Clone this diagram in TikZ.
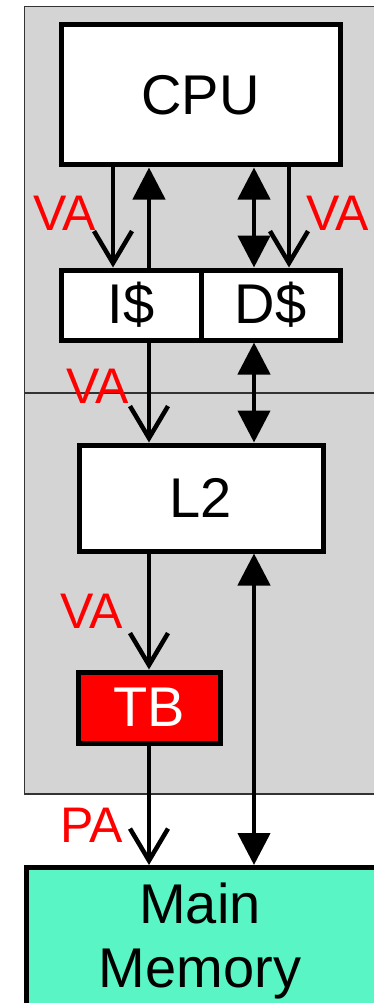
\documentclass[tikz,border=0pt]{standalone}
\usepackage{fontspec}
\setmainfont{Liberation Sans}
\usetikzlibrary{arrows.meta}
\definecolor{panelgray}{HTML}{D4D4D4}
\definecolor{memteal}{HTML}{5AF5C4}
\definecolor{tbred}{HTML}{FF0000}
\begin{document}
\begin{tikzpicture}[x=1pt,y=-1pt,
  box/.style={draw=black, line width=5pt, fill=white, inner sep=0pt,
    font=\fontsize{56}{64}\selectfont},
  lbl/.style={text=tbred, inner sep=0pt, anchor=base,
    font=\fontsize{50}{60}\selectfont},
  conn/.style={line width=4.5pt},
  opentip/.style={-{Straight Barb[length=32pt,width=38pt]}},
  filltip/.style={-{Triangle[length=32pt,width=32pt]}},
  dbltip/.style={{Triangle[length=32pt,width=32pt]}-{Triangle[length=32pt,width=32pt]}},
  panelline/.style={line width=1.5pt, draw=black!80}
]
\useasboundingbox (0,0) rectangle (374,1003);
\clip (0,0) rectangle (374,1003);
% panel
\fill[panelgray] (24.5,6.5) rectangle (400,794);
\draw[panelline] (400,6.5) -- (24.5,6.5) -- (24.5,794) -- (400,794);
\draw[panelline] (24.5,393) -- (400,393);
% columns
\coordinate (c1) at (113,0);
\coordinate (c2) at (149,0);
\coordinate (c3) at (254,0);
\coordinate (c4) at (289,0);
% boxes
\node[box, minimum width=279pt, minimum height=140pt] (cpu) at (200.5,95) {CPU};
\node[box, minimum width=140pt, minimum height=70pt] (icache) at (131,305) {I\$};
\node[box, minimum width=139pt, minimum height=70pt] (dcache) at (270.5,305) {D\$};
\node[box, minimum width=244pt, minimum height=106pt] (l2) at (201,498) {L2};
\node[box, fill=tbred, text=white, minimum width=142pt, minimum height=71pt] (tb) at (149,707.5) {TB};
\node[box, fill=memteal, minimum width=380pt, minimum height=220pt, anchor=north west] (mm) at (24,865) {};
\node[inner sep=0pt, anchor=north, align=center, font=\fontsize{56}{64}\selectfont] (mmtext) at (200,883) {Main\\Memory};
% connectors
\draw[conn, opentip] (cpu.south -| c1) -- (icache.north -| c1);
\draw[conn, filltip] (icache.north -| c2) -- (cpu.south -| c2);
\draw[conn, dbltip] (cpu.south -| c3) -- (dcache.north -| c3);
\draw[conn, opentip] (cpu.south -| c4) -- (dcache.north -| c4);
\draw[conn, opentip] (icache.south -| c2) -- (l2.north -| c2);
\draw[conn, dbltip] (dcache.south -| c3) -- (l2.north -| c3);
\draw[conn, opentip] (l2.south -| c2) -- (tb.north -| c2);
\draw[conn, dbltip] (l2.south -| c3) -- (mm.north -| c3);
\draw[conn, opentip] (tb.south -| c2) -- (mm.north -| c2);
% labels
\node[lbl] (va1) at (64.5,230) {VA};
\node[lbl] (va2) at (337.5,230) {VA};
\node[lbl] (va3) at (97.5,403) {VA};
\node[lbl] (va4) at (91.5,628) {VA};
\node[lbl] (pa) at (91.5,842) {PA};
\end{tikzpicture}
\end{document}
